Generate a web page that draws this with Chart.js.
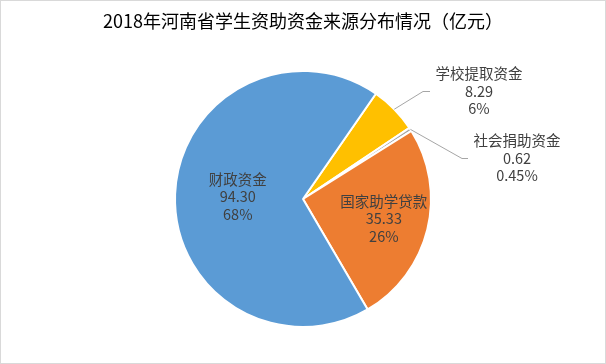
<!DOCTYPE html>
<html>
<head>
<meta charset="utf-8">
<script src="https://cdn.jsdelivr.net/npm/chart.js@4/dist/chart.umd.min.js"></script>
<style>
  html, body { margin: 0; padding: 0; background: #fff; }
  canvas { display: block; }
</style>
</head>
<body>
<canvas id="pieChart" width="606" height="364"></canvas>
<script>
// Data (clockwise order as in the picture)
const categories = ['学校提取资金', '社会捐助资金', '国家助学贷款', '财政资金'];
const amounts = [8.29, 0.62, 35.33, 94.30];
const percentLabels = ['6%', '0.45%', '26%', '68%'];
const sliceColors = ['#ffc000', '#a5a5a5', '#ed7d31', '#5b9bd5'];

const FONT = '"Noto Sans CJK SC", "Noto Sans", sans-serif';

// label placement: inside labels use a radius fraction, outside ones get a leader line
const labelStyle = [
  { outside: true, elbow: [423, 91], end: [430, 91], text: [479, 91] },
  { outside: true, elbow: [462, 158], end: [468, 158], text: [517, 158] },
  { outside: false, frac: 0.65 },
  { outside: false, frac: 0.51 }
];

const labelPlugin = {
  id: 'sliceLabels',
  beforeDraw(chart) {
    const ctx = chart.ctx;
    ctx.save();
    ctx.fillStyle = '#fff';
    ctx.fillRect(0, 0, chart.width, chart.height);
    ctx.strokeStyle = '#d9d9d9';
    ctx.lineWidth = 1;
    ctx.strokeRect(0.5, 0.5, chart.width - 1, chart.height - 1);
    ctx.restore();
  },
  afterDatasetsDraw(chart) {
    const ctx = chart.ctx;
    const meta = chart.getDatasetMeta(0);
    ctx.save();
    ctx.font = '14.5px ' + FONT;
    ctx.fillStyle = '#404040';
    ctx.textAlign = 'center';
    ctx.textBaseline = 'middle';
    meta.data.forEach((arc, i) => {
      const mid = (arc.startAngle + arc.endAngle) / 2;
      const lines = [categories[i], amounts[i].toFixed(2), percentLabels[i]];
      const st = labelStyle[i];
      let cx, cy;
      if (st.outside) {
        const ex = arc.x + arc.outerRadius * Math.cos(mid);
        const ey = arc.y + arc.outerRadius * Math.sin(mid);
        ctx.strokeStyle = '#a6a6a6';
        ctx.lineWidth = 1;
        ctx.beginPath();
        ctx.moveTo(ex, ey);
        ctx.lineTo(st.elbow[0], st.elbow[1] + 0.5);
        ctx.lineTo(st.end[0], st.end[1] + 0.5);
        ctx.stroke();
        cx = st.text[0];
        cy = st.text[1];
      } else {
        cx = arc.x + arc.outerRadius * st.frac * Math.cos(mid);
        cy = arc.y + arc.outerRadius * st.frac * Math.sin(mid);
      }
      lines.forEach((t, k) => {
        ctx.fillText(t, cx, cy + (k - 1) * 17.5);
      });
    });
    ctx.restore();
  }
};

new Chart(document.getElementById('pieChart'), {
  type: 'pie',
  data: {
    labels: categories,
    datasets: [{
      data: amounts,
      backgroundColor: sliceColors,
      borderColor: '#ffffff',
      borderWidth: 2
    }]
  },
  options: {
    responsive: false,
    animation: false,
    rotation: 34.7,
    layout: { padding: { top: 0, bottom: 36, left: 0, right: 0 } },
    plugins: {
      legend: { display: false },
      tooltip: { enabled: false },
      title: {
        display: true,
        text: '2018年河南省学生资助资金来源分布情况（亿元）',
        color: '#000',
        font: { family: FONT, size: 18, weight: 'normal', lineHeight: 1 },
        padding: { top: 12, bottom: 40 }
      }
    }
  },
  plugins: [labelPlugin]
});
</script>
</body>
</html>
